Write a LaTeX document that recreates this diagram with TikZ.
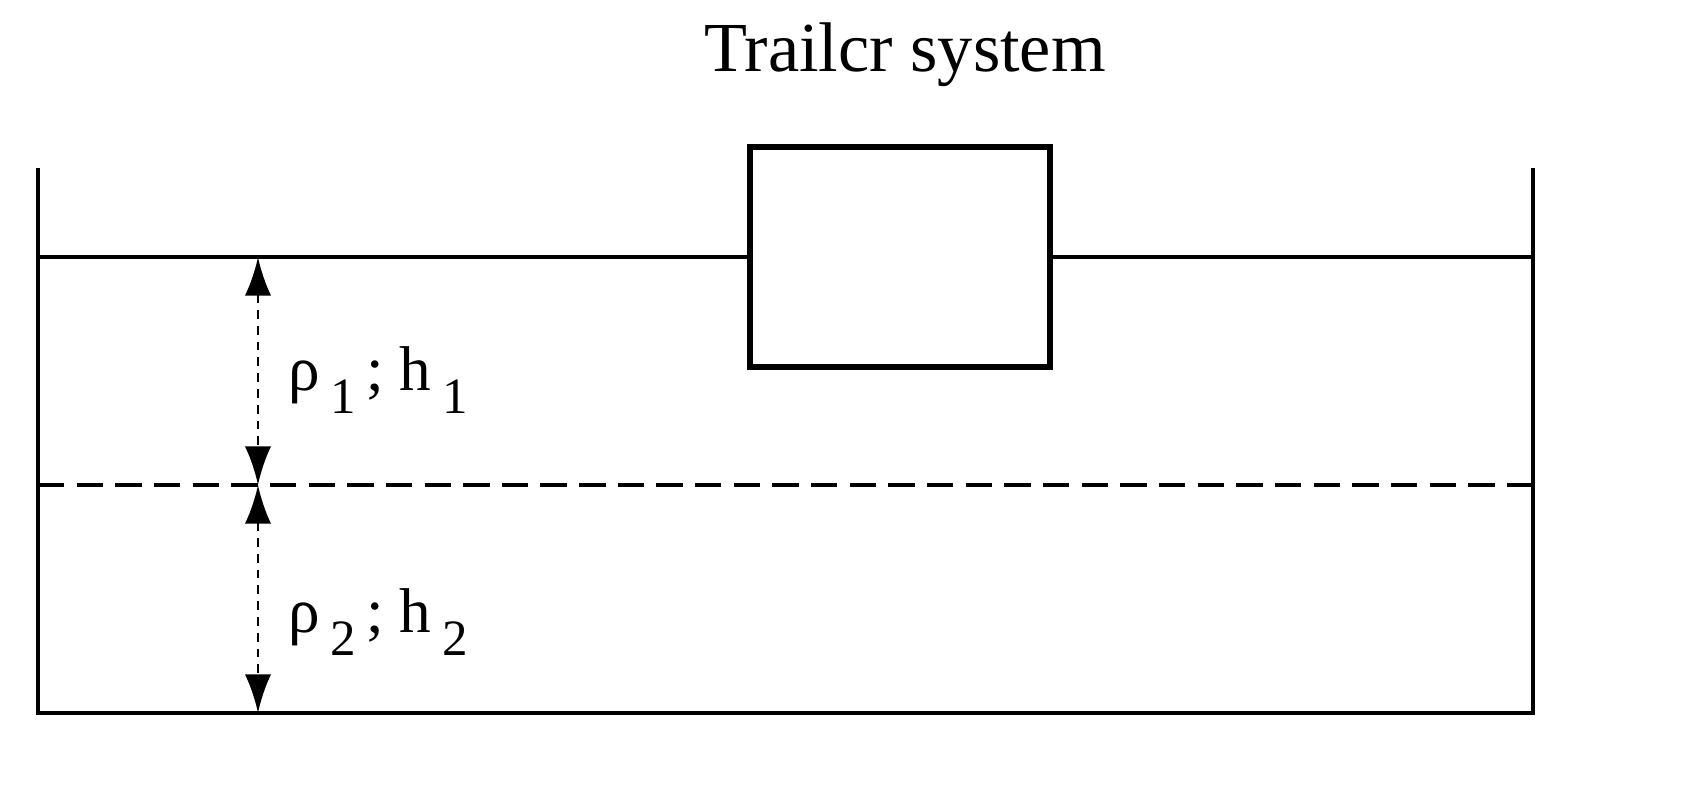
\documentclass[tikz,border=0pt]{standalone}
\usepackage{fontspec}
\setmainfont{Liberation Serif}
\usetikzlibrary{arrows.meta}
\begin{document}
\begin{tikzpicture}[x=0.02cm,y=-0.02cm,
  thin line/.style={line width=2.2pt},
  dim/.style={line width=1.7pt,dash pattern=on 5pt off 4pt,{Latex[length=22pt,width=15pt]}-{Latex[length=22pt,width=15pt]}},
  lbl/.style={font=\fontsize{36pt}{40pt}\selectfont,anchor=west,inner sep=0pt}]
\useasboundingbox (0,0) rectangle (1691,808);
\node[font=\fontsize{40pt}{44pt}\selectfont] (title) at (905,55) {Trailcr system};
\coordinate (tl) at (38,168); \coordinate (bl) at (38,713);
\coordinate (br) at (1533,713); \coordinate (tr) at (1533,168);
\draw[thin line] (tl) -- (bl) -- (br) -- (tr);
\node[draw,line width=3pt,minimum width=300*0.02cm,minimum height=220*0.02cm,inner sep=0pt] (box) at (900,257) {};
\coordinate (sl) at (38,257); \coordinate (sr) at (1533,257);
\draw[thin line] (sl) -- (box.west);
\draw[thin line] (box.east) -- (sr);
\coordinate (dl) at (38,485); \coordinate (dr) at (1533,485);
\draw[thin line,dash pattern=on 15pt off 7pt] (dl) -- (dr);
\coordinate (a1) at (258,257); \coordinate (a2) at (258,485); \coordinate (a3) at (258,713);
\draw[dim] (a1) -- (a2);
\draw[dim] (a2) -- (a3);
\node[lbl] (l1) at (288,380) {ρ\,\raisebox{-0.35em}{\fontsize{29pt}{30pt}\selectfont 1}\,; h\,\raisebox{-0.35em}{\fontsize{29pt}{30pt}\selectfont 1}};
\node[lbl] (l2) at (288,622) {ρ\,\raisebox{-0.35em}{\fontsize{29pt}{30pt}\selectfont 2}\,; h\,\raisebox{-0.35em}{\fontsize{29pt}{30pt}\selectfont 2}};
\end{tikzpicture}
\end{document}
